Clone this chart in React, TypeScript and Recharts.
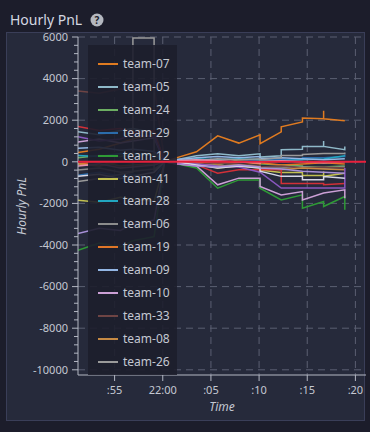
import React from 'react';
import { LineChart, Line, XAxis, YAxis, CartesianGrid, ReferenceLine } from 'recharts';

// minutes after 21:00; repeated times are several readings in the same minute
const times = [51.2, 53.4, 55.6, 56.9, 56.9, 59.1, 59.1, 60.2, 61.4, 63.5, 65.7, 67.9, 70.1, 70.1, 72.3, 72.3, 74.5, 74.5, 76.7, 76.7, 76.7, 78.9, 78.9];

const xTicks = [55, 60, 65, 70, 75, 80];
const xTickLabels = [':55', '22:00', ':05', ':10', ':15', ':20'];
const yMajorTicks = [6000, 4000, 2000, 0, -2000, -4000, -6000, -8000, -10000];

const team07 = [450, 600, 900, 1100, 1100, 1300, 1300, 0, 190, 480, 1250, 900, 1300, 870, 1440, 1680, 1920, 2100, 2070, 2450, 2070, 1970, 1970];
const team05 = [1450, 1300, 1500, 1600, 1600, 1400, 1400, 0, 100, 290, 385, 290, 385, 225, 290, 580, 600, 740, 740, 1000, 740, 580, 740];
const team24 = [200, 300, 250, 400, 400, 350, 350, 0, -50, 50, -150, 100, 50, -100, -150, -150, -200, -250, -250, -250, -250, -200, -200];
const team29 = [-650, -500, -700, -600, -600, -800, -800, 0, 50, 100, -100, 0, 100, 150, 100, 100, 100, 200, 200, 200, 200, 250, 350];
const team12 = [-4250, -3900, -4100, -3800, -3800, -3600, -3600, 0, -100, -300, -1270, -870, -870, -1270, -1830, -1830, -1590, -2230, -1910, -1910, -2150, -1670, -2310];
const team41 = [-1850, -1950, -1700, -1800, -1800, -1900, -1900, 0, -50, -100, -300, -200, -300, -400, -510, -510, -510, -660, -660, -465, -700, -545, -545];
const team28 = [300, 250, 400, 350, 350, 300, 300, 0, 50, 150, 100, 150, 100, 50, 50, 50, 100, 100, 130, 130, 130, 290, 290];
const team06 = [-400, -300, -500, -450, -450, -350, -350, 0, -100, -50, -200, -150, -200, -300, -300, -300, -250, -250, -300, -300, -300, -250, -250];
const team19 = [-100, 0, -200, -150, -150, -100, -100, 0, 50, 0, -100, 0, -100, -50, -150, -150, -100, -100, -50, -50, -50, -100, -100];
const team09 = [650, 700, 550, 600, 600, 500, 500, 0, 100, 200, 250, 200, 250, 150, 200, 200, 150, 150, 100, 100, 100, 150, 150];
const team10 = [950, 1100, 900, 1000, 1000, 1150, 1150, 0, -100, -200, -1105, -785, -785, -1185, -1590, -1590, -1430, -1830, -1505, -1505, -1505, -1345, -1750];
const team33 = [3400, 3300, 3500, 3450, 3450, 3600, 3600, 0, -50, -100, -50, -100, -200, -250, -200, -200, -300, -300, -250, -250, -250, -300, -300];
const team08 = [-100, -200, 0, -50, -50, 100, 100, 0, -50, -100, -200, -150, -250, -300, -385, -385, -300, -300, -350, -350, -350, -385, -385];
const team26 = [-950, -800, -600, -500, 5950, 5950, -400, 0, 0, 50, 150, 100, 150, 100, 200, 300, 300, 350, 400, 400, 400, 400, 450];
const team15 = [1700, 1500, 1600, 1400, 1400, 1500, 1500, 0, -100, -150, -545, -385, -385, -385, -385, -1040, -1040, -1040, -1040, -1040, -1105, -1040, -1040];
const team17 = [1200, 1000, 1100, 1300, 1300, 1200, 1200, 0, -50, -100, -200, -250, -500, -500, -1265, -1265, -1265, -1265, -1265, -1265, -1265, -1265, -300];
const team21 = [-200, -100, -300, -250, -250, -150, -150, 0, 50, 100, 50, 0, -50, 0, 50, 50, 0, 0, -50, -50, -50, 0, 0];
const team14 = [-700, -600, -800, -700, -700, -500, -500, 0, 0, -150, -300, -200, -300, -450, -700, -700, -700, -865, -865, -705, -705, -785, -785];
const team03 = [-3450, -3200, -3300, -3000, -3000, -2800, -2800, 0, -100, -200, -250, -150, -250, -300, -350, -350, -450, -450, -500, -500, -500, -550, -550];

const seriesNames = ['team-07', 'team-05', 'team-24', 'team-29', 'team-12', 'team-41', 'team-28', 'team-06', 'team-19', 'team-09', 'team-10', 'team-33', 'team-08', 'team-26', 'team-15', 'team-17', 'team-21', 'team-14', 'team-03'];
const seriesColors = ['#e07b20', '#8fb9c9', '#6cae62', '#2b6cab', '#2e9a36', '#c2c050', '#22a6c0', '#8c8c8c', '#e07628', '#93b6e4', '#cca0d6', '#6e4444', '#c68a44', '#9a9a9a', '#d23038', '#8a58c0', '#e890b0', '#d8d8e8', '#a890d8'];
const seriesValues = [team07, team05, team24, team29, team12, team41, team28, team06, team19, team09, team10, team33, team08, team26, team15, team17, team21, team14, team03];
const legendCount = 14;

const data = times.map((t, i) => {
  const row: Record<string, number> = { t };
  seriesNames.forEach((name, k) => {
    row[name] = seriesValues[k][i];
  });
  return row;
});

const yTicks: number[] = [];
for (let v = -10000; v <= 6000; v += 400) yTicks.push(v);

const xDomain = [51.2, 81.1];
const yDomain = [-10250, 6000];

const axisColor = '#b4b8c4';
const textColor = '#c4c8d2';
const font = '"Noto Sans", sans-serif';

function YTick(props: any) {
  const { x, y, payload } = props;
  const major = payload.value % 2000 === 0;
  return (
    <g>
      <line x1={x - (major ? 6 : 4)} x2={x} y1={y} y2={y} stroke={axisColor} />
      {major && (
        <text x={x - 10} y={y} dy="0.35em" textAnchor="end" fontSize={11} fill={textColor} fontFamily={font}>
          {payload.value}
        </text>
      )}
    </g>
  );
}

function LegendBox() {
  return (
    <div
      style={{
        position: 'absolute',
        left: 88,
        top: 45,
        width: 89,
        height: 330,
        background: 'rgba(29,30,44,0.9)',
      }}
    >
      {seriesNames.slice(0, legendCount).map((name, i) => (
        <div
          key={name}
          style={{ position: 'absolute', left: 10, top: 19 + i * 22.9 - 9, height: 18, display: 'flex', alignItems: 'center' }}
        >
          <span style={{ display: 'inline-block', width: 20, height: 2, background: seriesColors[i], marginRight: 5 }} />
          <span style={{ fontSize: 12, color: textColor, fontFamily: font, lineHeight: '18px' }}>{name}</span>
        </div>
      ))}
    </div>
  );
}

export default function App() {
  return (
    <div style={{ position: 'relative', width: 370, height: 432, background: '#1c1d2b', overflow: 'hidden', fontFamily: font }}>
      <style>{'body{margin:0;background:#1c1d2b;}'}</style>
      <div style={{ position: 'absolute', left: 10, top: 10, fontSize: 14, color: '#d4d8e2', display: 'flex', alignItems: 'center' }}>
        Hourly PnL
        <svg width={14} height={14} style={{ marginLeft: 8 }}>
          <circle cx={7} cy={7} r={6.5} fill="#b4b8c0" />
          <text x={7} y={7} dy="0.36em" textAnchor="middle" fontSize={10} fontWeight="bold" fill="#1c1d2b" fontFamily={font}>?</text>
        </svg>
      </div>
      <div style={{ position: 'absolute', left: 6, top: 32, width: 359, height: 389, background: '#262a3b', border: '1px solid #3a3e58', boxSizing: 'border-box' }} />
      <div style={{ position: 'absolute', left: 0, top: 0 }}>
        <LineChart width={370} height={432} data={data} margin={{ top: 37, right: 4, left: 18, bottom: 17 }}>
          <CartesianGrid stroke="#5b5f72" strokeDasharray="7 5" horizontalValues={yMajorTicks} verticalValues={xTicks} />
          <XAxis
            dataKey="t"
            type="number"
            domain={xDomain}
            allowDataOverflow
            ticks={xTicks}
            interval={0}
            height={40}
            stroke={axisColor}
            tickSize={6}
            tickMargin={5}
            tick={{ fill: textColor, fontSize: 11, fontFamily: font }}
            tickFormatter={(v: number) => xTickLabels[xTicks.indexOf(v)]}
            label={{ value: 'Time', position: 'insideBottom', offset: 4, fill: textColor, fontSize: 12, fontStyle: 'italic', fontFamily: font }}
          />
          <YAxis
            type="number"
            domain={yDomain}
            allowDataOverflow
            ticks={yTicks}
            interval={0}
            width={60}
            stroke={axisColor}
            tickLine={false}
            tickSize={0}
            tickMargin={0}
            tick={<YTick />}
            label={{ value: 'Hourly PnL', angle: -90, position: 'insideLeft', offset: 4, fill: textColor, fontSize: 12, fontStyle: 'italic', fontFamily: font, style: { textAnchor: 'middle' } }}
          />
          {seriesNames.map((name, k) => (
            <Line
              key={name}
              type="linear"
              dataKey={name}
              stroke={seriesColors[k]}
              strokeWidth={1.5}
              dot={false}
              isAnimationActive={false}
            />
          ))}
        </LineChart>
      </div>
      <LegendBox />
      {/* zero line sits above the legend box, so it gets its own transparent chart on top */}
      <div style={{ position: 'absolute', left: 0, top: 0, pointerEvents: 'none' }}>
        <LineChart width={370} height={432} data={data} margin={{ top: 37, right: 4, left: 78, bottom: 57 }}>
          <XAxis dataKey="t" type="number" domain={xDomain} allowDataOverflow hide />
          <YAxis type="number" domain={yDomain} allowDataOverflow hide />
          <ReferenceLine y={0} stroke="#e8203c" strokeWidth={2} />
        </LineChart>
      </div>
    </div>
  );
}
